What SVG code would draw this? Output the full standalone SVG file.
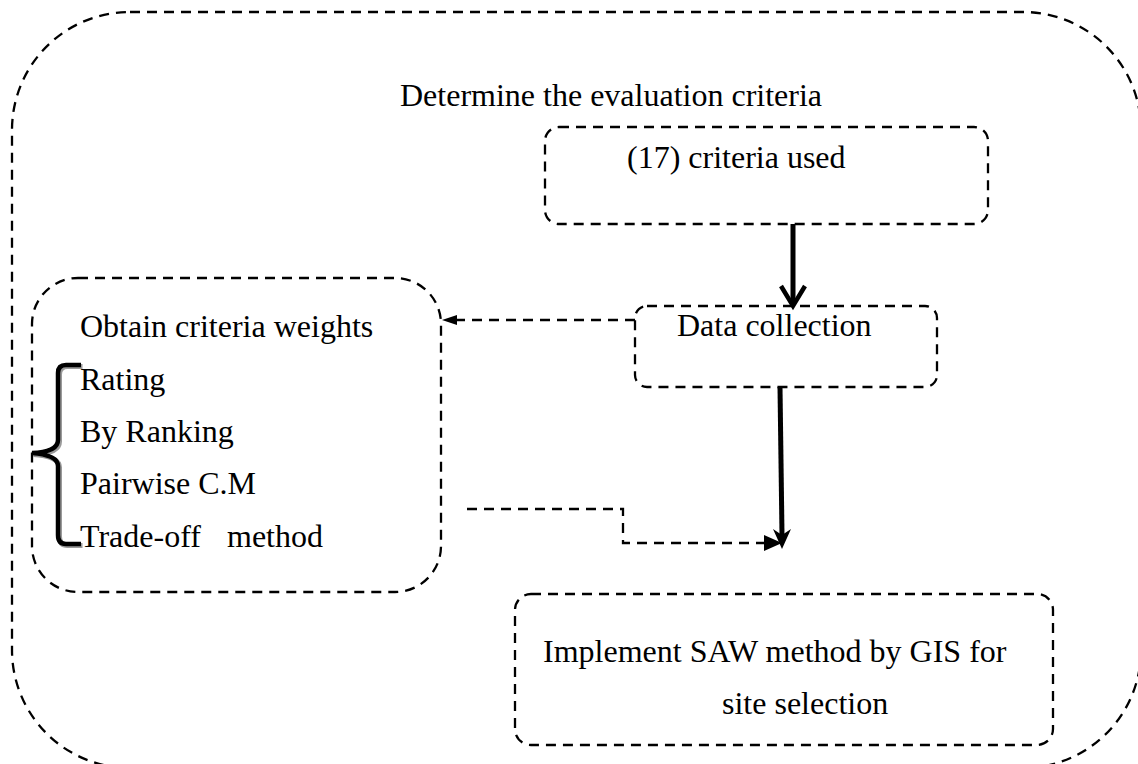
<svg xmlns="http://www.w3.org/2000/svg" width="1138" height="764" viewBox="0 0 1138 764">
  <style>
    .box { fill: none; stroke: #000; stroke-width: 2.3; stroke-dasharray: 10 7; }
    .dash { fill: none; stroke: #000; stroke-width: 2.3; stroke-dasharray: 10 7; }
    .solid { fill: none; stroke: #000; stroke-width: 5; }
    .head { fill: #000; stroke: none; }
    text { font-family: "Liberation Serif", "Times New Roman", serif; font-size: 32px; fill: #000; }
  </style>
  <rect width="1138" height="764" fill="#fff"/>

  <!-- enclosing frame -->
  <g id="frame">
    <rect class="box" x="12" y="12" width="1129" height="756" rx="118" ry="118"/>
    <text x="400" y="106">Determine the evaluation criteria</text>
  </g>

  <g id="criteria-used">
    <rect class="box" x="545" y="127" width="443" height="97" rx="14" ry="14"/>
    <text x="627" y="168">(17) criteria used</text>
  </g>

  <g id="data-collection">
    <rect class="box" x="635" y="306" width="302" height="81" rx="12" ry="12"/>
    <text x="677" y="336">Data collection</text>
  </g>

  <g id="criteria-weights">
    <rect class="box" x="32" y="278" width="409" height="314" rx="46" ry="46"/>
    <text x="80" y="337">Obtain criteria weights</text>
    <text x="80" y="390">Rating</text>
    <text x="80" y="442">By Ranking</text>
    <text x="80" y="494">Pairwise C.M</text>
    <text x="80" y="547">Trade-off<tspan x="227">method</tspan></text>
    <!-- curly brace grouping the weighting methods -->
    <path d="M81,365 L66,365 Q58,365 58,373 L58,440 Q58,452 32,453 Q58,455 58,466 L58,535 Q58,544 66,544 L81,544"
          fill="none" stroke="#9a9a9a" stroke-width="5" transform="translate(1.5,1.5)"/>
    <path d="M81,365 L66,365 Q58,365 58,373 L58,440 Q58,452 32,453 Q58,455 58,466 L58,535 Q58,544 66,544 L81,544"
          fill="none" stroke="#000" stroke-width="4.5"/>
  </g>

  <g id="saw-gis">
    <rect class="box" x="515" y="594" width="538" height="151" rx="16" ry="16"/>
    <text x="543" y="662">Implement SAW method by GIS for</text>
    <text x="722" y="714">site selection</text>
  </g>

  <g id="connectors">
    <!-- criteria used -> data collection -->
    <line class="solid" x1="793" y1="224" x2="793" y2="303"/>
    <path d="M781,286 L793,306 L805,286" fill="none" stroke="#000" stroke-width="4.5"/>
    <!-- data collection -> criteria weights -->
    <line class="dash" x1="635" y1="320" x2="457" y2="320"/>
    <polygon class="head" points="442,320 457,315 457,325"/>
    <!-- data collection -> SAW -->
    <line class="solid" x1="780" y1="387" x2="782" y2="535"/>
    <polygon class="head" points="782,549 773,529 782,535 791,529"/>
    <!-- criteria weights -> SAW -->
    <path class="dash" d="M467,509 H623 V543 H764"/>
    <polygon class="head" points="782,543 764,535 764,551"/>
  </g>
</svg>
